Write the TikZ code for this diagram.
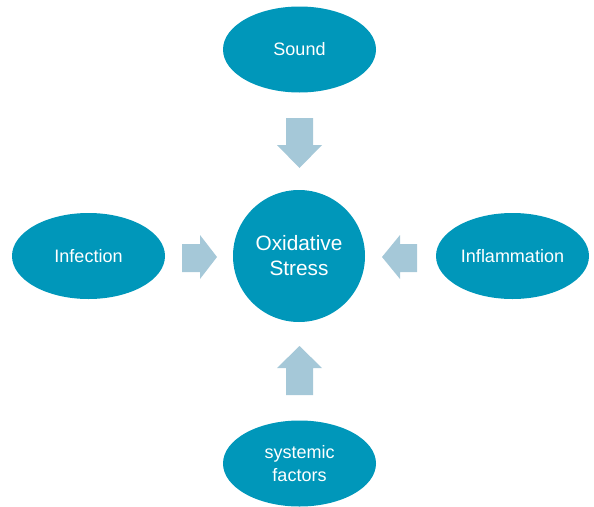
\documentclass[tikz,border=0pt]{standalone}
\usepackage{fontspec}
\setmainfont{Liberation Sans}
\usetikzlibrary{shapes.geometric}
\definecolor{tealfill}{HTML}{0097BA}
\definecolor{arrowfill}{HTML}{A5C8D8}
\tikzset{
  cause/.style={ellipse,fill=tealfill,text=white,inner sep=0pt,
    minimum width=153pt,minimum height=86pt,align=center,
    font=\fontsize{18}{23.5}\selectfont},
  stress/.style={circle,fill=tealfill,text=white,inner sep=0pt,
    minimum size=132pt,align=center,
    font=\fontsize{20.8}{25}\selectfont},
  blockarrow/.style={fill=arrowfill}
}
\begin{document}
\begin{tikzpicture}[x=1pt,y=-1pt]
    \useasboundingbox (0,0) rectangle (594,506);
    % centre and the four causes
    \node[stress](ox)at(299,256){Oxidative\\Stress};
    \node[cause](sound)at(299.5,49.5){Sound};
    \node[cause](infect)at(88.5,256){Infection};
    \node[cause](inflam)at(512.5,256){Inflammation};
    \node[cause](sys)at(299.5,463.5){systemic\\factors};

    % block arrows
    \fill[blockarrow](286,118)--(313,118)--(313,145)--(322,145)--(299.5,168)--(277,145)--(286,145)--cycle;
    \fill[blockarrow](286,395)--(313,395)--(313,368)--(322,368)--(299.5,346)--(277,368)--(286,368)--cycle;
    \fill[blockarrow](182,244)--(200,244)--(200,235)--(217,257)--(200,279)--(200,272)--(182,272)--cycle;
    \fill[blockarrow](417,244)--(400,244)--(400,235)--(382,257)--(400,279)--(400,272)--(417,272)--cycle;
  \end{tikzpicture}
\end{document}
